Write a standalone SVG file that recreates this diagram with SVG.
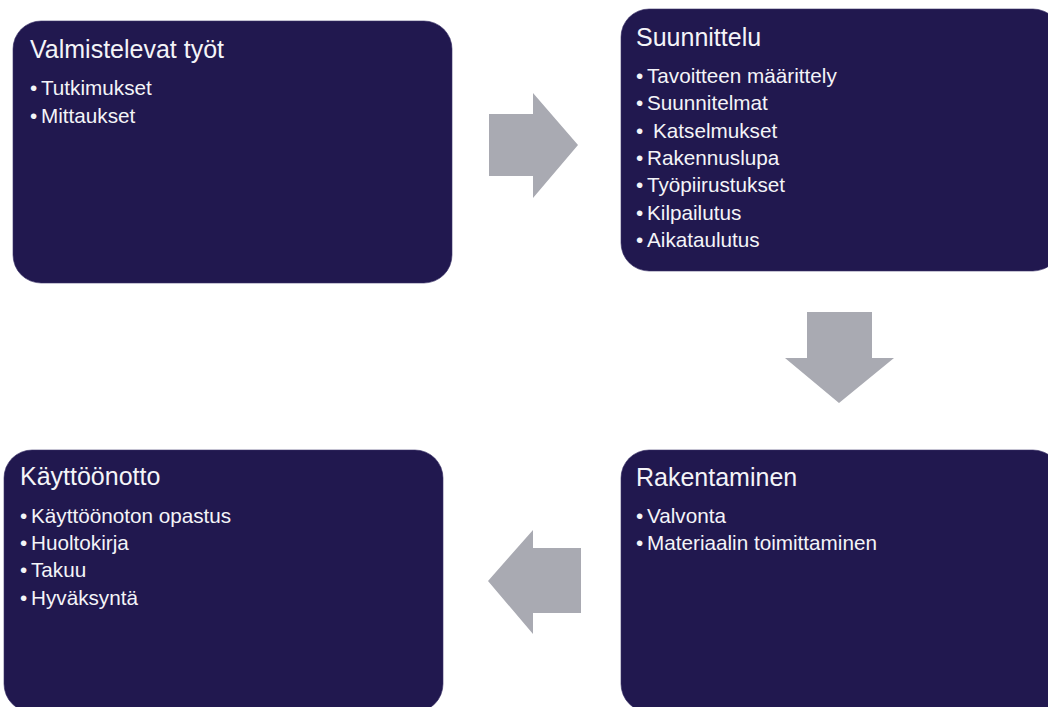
<svg xmlns="http://www.w3.org/2000/svg" width="1048" height="707" viewBox="0 0 1048 707">
<style>
.box{fill:#21184f;stroke:#3a3368;stroke-width:0.6}
.arr{fill:#a9aab2}
.t{font-family:"Liberation Sans",Arial,sans-serif;font-size:25px;fill:#f4f4f8}
.b{font-family:"Liberation Sans",Arial,sans-serif;font-size:20.7px;fill:#f4f4f8}
</style>
<rect width="1048" height="707" fill="#ffffff"/>
<g id="node-valmistelevat">
<rect class="box" x="13" y="21" width="439" height="262" rx="28"/>
<text class="t" x="30" y="58">Valmistelevat työt</text>
<text class="b" y="95"><tspan x="30">•</tspan><tspan x="41">Tutkimukset</tspan></text>
<text class="b" y="123"><tspan x="30">•</tspan><tspan x="41">Mittaukset</tspan></text>
</g>
<g id="node-suunnittelu">
<rect class="box" x="621" y="9" width="440" height="262" rx="28"/>
<text class="t" x="636" y="46">Suunnittelu</text>
<text class="b" y="83"><tspan x="636">•</tspan><tspan x="647">Tavoitteen määrittely</tspan></text>
<text class="b" y="110"><tspan x="636">•</tspan><tspan x="647">Suunnitelmat</tspan></text>
<text class="b" y="138"><tspan x="636">•</tspan><tspan x="653">Katselmukset</tspan></text>
<text class="b" y="165"><tspan x="636">•</tspan><tspan x="647">Rakennuslupa</tspan></text>
<text class="b" y="192"><tspan x="636">•</tspan><tspan x="647">Työpiirustukset</tspan></text>
<text class="b" y="220"><tspan x="636">•</tspan><tspan x="647">Kilpailutus</tspan></text>
<text class="b" y="247"><tspan x="636">•</tspan><tspan x="647">Aikataulutus</tspan></text>
</g>
<g id="node-rakentaminen">
<rect class="box" x="621" y="450" width="440" height="262" rx="28"/>
<text class="t" x="636" y="486">Rakentaminen</text>
<text class="b" y="523"><tspan x="636">•</tspan><tspan x="647">Valvonta</tspan></text>
<text class="b" y="550"><tspan x="636">•</tspan><tspan x="647">Materiaalin toimittaminen</tspan></text>
</g>
<g id="node-kayttoonotto">
<rect class="box" x="4" y="450" width="439" height="262" rx="28"/>
<text class="t" x="20" y="485">Käyttöönotto</text>
<text class="b" y="523"><tspan x="20">•</tspan><tspan x="31">Käyttöönoton opastus</tspan></text>
<text class="b" y="550"><tspan x="20">•</tspan><tspan x="31">Huoltokirja</tspan></text>
<text class="b" y="577"><tspan x="20">•</tspan><tspan x="31">Takuu</tspan></text>
<text class="b" y="605"><tspan x="20">•</tspan><tspan x="31">Hyväksyntä</tspan></text>
</g>
<g id="connectors">
<polygon class="arr" points="489,114 533,114 533,93 578,145 533,198 533,176 489,176"/>
<polygon class="arr" points="807,312 872,312 872,358 894,358 839,403 785,358 807,358"/>
<polygon class="arr" points="581,548 533,548 533,530 488,581 533,634 533,613 581,613"/>
</g>
</svg>
